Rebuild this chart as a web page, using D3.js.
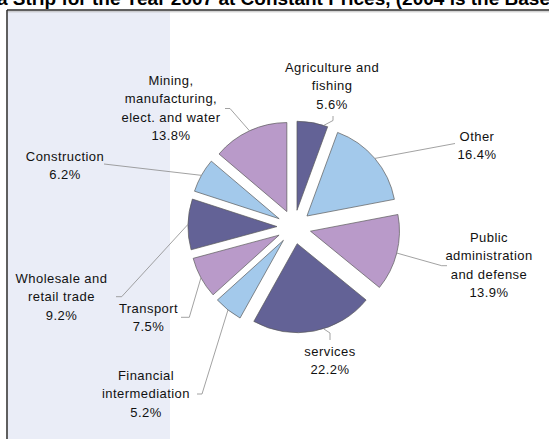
<!DOCTYPE html>
<html>
<head>
<meta charset="utf-8">
<script src="https://cdn.jsdelivr.net/npm/d3@7"></script>
<style>
html,body{margin:0;padding:0;background:#fff;overflow:hidden}
svg{display:block}
text{font-family:"Liberation Sans",Arial,sans-serif}
</style>
</head>
<body>
<script>
// ---- data ----
const categories = ["Agriculture and fishing","Other","Public administration and defense","services","Financial intermediation","Transport","Wholesale and retail trade","Construction","Mining, manufacturing, elect. and water"];
const labelLines = [["Agriculture and","fishing"],["Other"],["Public","administration","and defense"],["services"],["Financial","intermediation"],["Transport"],["Wholesale and","retail trade"],["Construction"],["Mining,","manufacturing,","elect. and water"]];
const values = [5.6,16.4,13.9,22.2,5.2,7.5,9.2,6.2,13.8];
const titleText = "Gaza Strip for the Year 2007 at Constant Prices, (2004 is the Base Year)";

// ---- layout / style ----
const W = 549, H = 439;
const cx = 294, cy = 227, R = 89, explode = 17;
const colors = ["#636296","#a3c9eb","#b99ac9"];
const labelPos = [[332,67],[477,136],[489,237],[330,351],[146,375],[148.5,308],[61.5,278],[65,156],[171,80]];
const leaderFrac = [0.87,0.5,0.5,0.42,0.5,0.5,0.5,0.5,0.5];
const leaderPts = [
  [[333,120.5],[333,116]],
  [[455,143.5]],
  [[441.7,265.7],[447,265.7]],
  [[330,333],[330,340]],
  [[202,394],[197,394]],
  [[189.3,317.3],[181,317.3]],
  [[121.7,296.7],[116,296.7]],
  [[104,164]],
  [[230,108.5],[225,108.5]]
];
const lineH = 18.5;

const svg = d3.select("body").append("svg").attr("width",W).attr("height",H);

// frame & shaded band
svg.append("rect").attr("x",8).attr("y",11).attr("width",162).attr("height",H-11).attr("fill","#eaedf7");
svg.append("line").attr("x1",7).attr("x2",W).attr("y1",10).attr("y2",10).attr("stroke","#2a2a2a").attr("stroke-width",1.5);
svg.append("line").attr("x1",8).attr("x2",W).attr("y1",11.8).attr("y2",11.8).attr("stroke","#b0b0b0").attr("stroke-width",0.8);
svg.append("line").attr("x1",7).attr("x2",7).attr("y1",10).attr("y2",H).attr("stroke","#2a2a2a").attr("stroke-width",1.5);

// title (cut off at top, as in reference)
const tfs = 19;
const title = svg.append("text").attr("y",5).attr("font-size",tfs).attr("font-weight","bold").attr("fill","#000");
const probe = svg.append("text").attr("font-size",tfs).attr("font-weight","bold").text("Gaz");
const wGaz = probe.node().getComputedTextLength();
probe.remove();
title.attr("x",-wGaz-3).text(titleText);

// pie
const pie = d3.pie().sort(null).value(d=>d).startAngle(0).endAngle(2*Math.PI);
const arcs = pie(values);
const arc = d3.arc().innerRadius(0).outerRadius(R);
const off = d => { const m=(d.startAngle+d.endAngle)/2; return [explode*Math.sin(m), -explode*Math.cos(m)]; };

const g = svg.append("g").attr("transform",`translate(${cx},${cy})`);
g.selectAll("path.slice").data(arcs).join("path")
  .attr("class","slice")
  .attr("d",arc)
  .attr("transform",d=>{const o=off(d);return `translate(${o[0]},${o[1]})`;})
  .attr("fill",(d,i)=>colors[i%3])
  .attr("stroke","#5a5a5a").attr("stroke-width",0.7);

// leader lines
arcs.forEach((d,i)=>{
  const o = off(d);
  const a = d.startAngle + leaderFrac[i]*(d.endAngle-d.startAngle);
  const s = [cx+o[0]+R*Math.sin(a), cy+o[1]-R*Math.cos(a)];
  const pts = [s].concat(leaderPts[i]);
  svg.append("path").attr("d",d3.line()(pts)).attr("fill","none").attr("stroke","#8a8a8a").attr("stroke-width",0.8);
});

// labels
const fmt = d3.format(".1f");
arcs.forEach((d,i)=>{
  const lines = labelLines[i].concat([fmt(values[i])+"%"]);
  const t = svg.append("text").attr("text-anchor","middle").attr("font-size",13).attr("letter-spacing","0.45px").attr("fill","#111");
  lines.forEach((ln,k)=>{
    t.append("tspan").attr("x",labelPos[i][0]).attr("y",labelPos[i][1]+k*lineH).attr("dy","0.35em").text(ln);
  });
});
</script>
</body>
</html>
